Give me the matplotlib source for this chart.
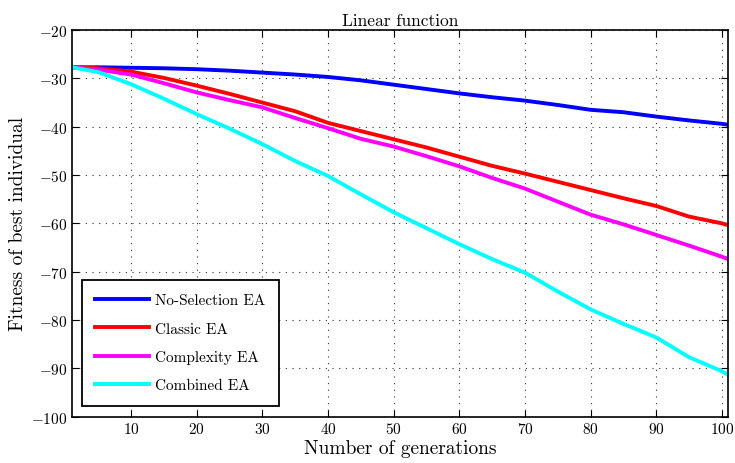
import numpy as np
import matplotlib
matplotlib.use('Agg')
import matplotlib.pyplot as plt

plt.rcParams['font.family'] = 'serif'
plt.rcParams['font.serif'] = ['cmr10', 'DejaVu Serif']
plt.rcParams['mathtext.fontset'] = 'cm'
plt.rcParams['axes.formatter.use_mathtext'] = True

# generations at which the averaged best fitness was recorded
generations = [1, 5, 10, 15, 20, 25, 30, 35, 40, 45, 50, 55, 60, 65, 70,
               75, 80, 85, 90, 95, 100, 101]

no_selection = [-27.7, -27.7, -27.8, -27.9, -28.1, -28.4, -28.8, -29.2, -29.7,
                -30.4, -31.3, -32.2, -33.1, -33.9, -34.6, -35.5, -36.5, -37.0,
                -37.9, -38.7, -39.4, -39.6]
classic = [-27.7, -27.9, -28.6, -29.9, -31.5, -33.2, -35.0, -36.8, -39.2,
           -40.9, -42.6, -44.3, -46.2, -48.1, -49.7, -51.4, -53.1, -54.8,
           -56.4, -58.6, -60.0, -60.4]
complexity = [-27.7, -28.2, -29.2, -31.0, -32.9, -34.5, -36.0, -38.2, -40.3,
              -42.5, -44.1, -46.1, -48.2, -50.6, -52.8, -55.5, -58.2, -60.2,
              -62.4, -64.6, -66.9, -67.4]
combined = [-27.7, -28.7, -31.2, -34.2, -37.4, -40.4, -43.6, -47.1, -50.2,
            -54.0, -57.7, -61.0, -64.3, -67.4, -70.2, -74.1, -77.8, -80.8,
            -83.6, -87.7, -90.6, -91.4]

labels = ['No-Selection EA', 'Classic EA', 'Complexity EA', 'Combined EA']
colors = ['#0000ff', '#ff0000', '#ff00ff', '#00ffff']

fig = plt.figure(figsize=(7.35, 4.64), dpi=100)
ax = fig.add_axes([0.098, 0.10, 0.893, 0.833])

for ys, lab, col in zip([no_selection, classic, complexity, combined], labels, colors):
    ax.plot(generations, ys, color=col, lw=2.8, label=lab)

ax.set_xlim(1, 101)
ax.set_ylim(-100, -20)
ax.set_xticks(np.arange(10, 101, 10))
ax.set_yticks(np.arange(-100, -19, 10))
ax.grid(True, color='#333333', linestyle=(0, (1, 5)), linewidth=0.8)
ax.tick_params(direction='in', top=True, right=True, labelsize=11, length=5, width=0.8)
for s in ax.spines.values():
    s.set_linewidth(1.2)

ax.set_xlabel('Number of generations', fontsize=14, labelpad=2)
ax.set_ylabel('Fitness of best individual', fontsize=14, labelpad=3)
ax.set_title('Linear function', fontsize=12.5, pad=4)

leg = ax.legend(loc='lower left', fontsize=11, fancybox=False, framealpha=1,
                edgecolor='black', handlelength=3.5, handletextpad=0.4,
                labelspacing=0.95, borderpad=0.9, borderaxespad=0,
                bbox_to_anchor=(0.0147, 0.027))
leg.get_frame().set_linewidth(1.3)

fig.savefig('out.png', dpi=100)
